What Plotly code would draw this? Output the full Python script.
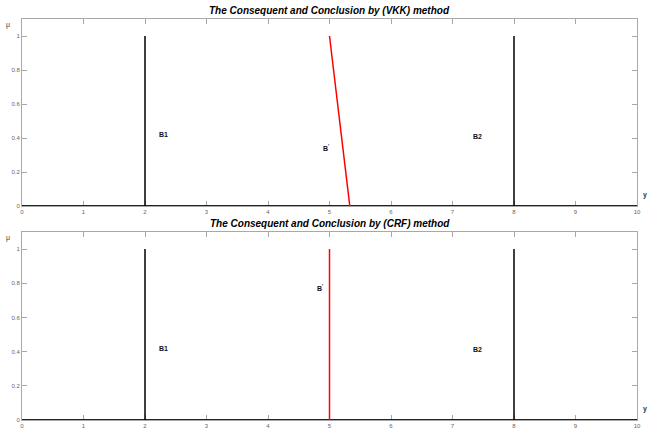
import plotly.graph_objects as go
from plotly.subplots import make_subplots

# Membership functions on the universe y in [0, 10]
baseline_x = [0, 10]
baseline_y = [0, 0]

b1_x = [2, 2]
b1_y = [0, 1]
b2_x = [8, 8]
b2_y = [0, 1]

vkk_x = [5.0, 5.33]
vkk_y = [1.0, 0.0]

crf_x = [5, 5]
crf_y = [0, 1]

titles = [
    "The Consequent and Conclusion by (VKK) method",
    "The Consequent and Conclusion by (CRF) method",
]

# label text, x, y for each panel
labels_top = [("B1", 2.3, 0.42), ("B<sup>'</sup>", 4.95, 0.34), ("B2", 7.4, 0.41)]
labels_bot = [("B1", 2.3, 0.42), ("B<sup>'</sup>", 4.85, 0.77), ("B2", 7.4, 0.41)]

xticks = list(range(0, 11))
yticks = [0, 0.2, 0.4, 0.6, 0.8, 1]
yticktext = ["0", "0.2", "0.4", "0.6", "0.8", "1"]

W, H = 649, 432
x_dom = [22 / W, 637 / W]
y_dom_top = [1 - 206 / H, 1 - 19 / H]
y_dom_bot = [1 - 420 / H, 1 - 232 / H]

fig = make_subplots(rows=2, cols=1)

for row, (cx, cy) in zip([1, 2], [(vkk_x, vkk_y), (crf_x, crf_y)]):
    fig.add_trace(go.Scatter(x=baseline_x, y=baseline_y, mode="lines",
                             line=dict(color="#222222", width=2)), row=row, col=1)
    fig.add_trace(go.Scatter(x=b1_x, y=b1_y, mode="lines",
                             line=dict(color="black", width=1.5)), row=row, col=1)
    fig.add_trace(go.Scatter(x=b2_x, y=b2_y, mode="lines",
                             line=dict(color="black", width=1.5)), row=row, col=1)
    fig.add_trace(go.Scatter(x=cx, y=cy, mode="lines",
                             line=dict(color="#ff0000", width=1.5)), row=row, col=1)

axis_common = dict(
    showgrid=False, zeroline=False, showline=True, linecolor="#a8a8a8",
    linewidth=1, mirror="ticks", ticks="inside", ticklen=5, tickcolor="#a8a8a8",
    layer="below traces", automargin=False,
    tickfont=dict(size=6, color="#666666", family="Liberation Sans"),
)

fig.update_xaxes(range=[0, 10], tickvals=xticks, domain=x_dom, **axis_common)
fig.update_yaxes(range=[0, 1.1], tickvals=yticks, ticktext=yticktext, **axis_common)
fig.update_yaxes(domain=y_dom_top, row=1, col=1)
fig.update_yaxes(domain=y_dom_bot, row=2, col=1)

annotations = []
for (ttl, ydom) in zip(titles, [y_dom_top, y_dom_bot]):
    annotations.append(dict(
        text="<b><i>" + ttl + "</i></b>", xref="paper", yref="paper",
        x=(x_dom[0] + x_dom[1]) / 2, y=ydom[1], yanchor="bottom", xanchor="center",
        yshift=1, showarrow=False,
        font=dict(size=10, color="black", family="Liberation Sans"),
    ))
    annotations.append(dict(
        text="μ", xref="paper", yref="paper", x=8 / W, y=ydom[1],
        xanchor="center", yanchor="top", yshift=0, showarrow=False,
        font=dict(size=7, color="#444444", family="Liberation Sans"),
    ))
    annotations.append(dict(
        text="<b>y</b>", xref="paper", yref="paper", x=645 / W, y=ydom[0],
        xanchor="center", yanchor="bottom", yshift=5, showarrow=False,
        font=dict(size=7, color="#333333", family="Liberation Sans"),
    ))

for (xr, yr), labels in zip([("x", "y"), ("x2", "y2")], [labels_top, labels_bot]):
    for txt, lx, ly in labels:
        annotations.append(dict(
            text="<b>" + txt + "</b>", xref=xr, yref=yr, x=lx, y=ly,
            showarrow=False, font=dict(size=7, color="#111111", family="Liberation Sans"),
        ))

fig.update_layout(
    width=W, height=H, margin=dict(l=0, r=0, t=0, b=0),
    paper_bgcolor="white", plot_bgcolor="white", showlegend=False,
    annotations=annotations,
)

fig.write_html("out.html")
